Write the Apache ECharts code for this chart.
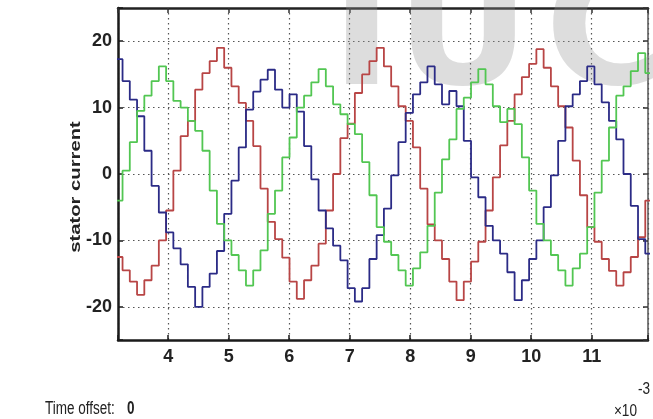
<!DOCTYPE html>
<html>
<head>
<meta charset="utf-8">
<title>stator current</title>
<script src="https://cdn.jsdelivr.net/npm/echarts@6/dist/echarts.min.js"></script>
<style>
  html, body { margin: 0; padding: 0; background: #fff; }
  #main { width: 653px; height: 419px; }
</style>
</head>
<body>
<div id="main"></div>
<script>
// scope trace: time in ms (axis shows x10^-3 s), each value holds until the next instant
const stepTimes = [
  3.125, 3.245, 3.365, 3.485, 3.605, 3.725, 3.845, 3.965, 4.085, 4.205,
  4.325, 4.445, 4.565, 4.685, 4.805, 4.925, 5.045, 5.165, 5.285, 5.405,
  5.525, 5.645, 5.765, 5.885, 6.005, 6.125, 6.245, 6.365, 6.485, 6.605,
  6.725, 6.845, 6.965, 7.085, 7.205, 7.325, 7.445, 7.565, 7.685, 7.805,
  7.925, 8.045, 8.165, 8.285, 8.405, 8.525, 8.645, 8.765, 8.885, 9.005,
  9.125, 9.245, 9.365, 9.485, 9.605, 9.725, 9.845, 9.965, 10.085, 10.205,
  10.325, 10.445, 10.565, 10.685, 10.805, 10.925, 11.045, 11.165, 11.285, 11.405,
  11.525, 11.645, 11.765, 11.885, 12.005
];

const phaseRed = [
  -12.5, -14.5, -16.2, -18.2, -16, -13.8, -10, -5.5, 0.5, 5.7,
  8, 12.7, 15.2, 17, 19, 16, 13.2, 10.7, 8, 4.2,
  -2.2, -7.2, -9.8, -12.6, -16.2, -18.8, -16, -13.8, -10.5, -5.5,
  0, 5.4, 7.6, 12.2, 15, 17, 19, 16.2, 13.2, 10.2,
  8, 4, -2.2, -7.6, -10, -12.8, -16.2, -19, -16.2, -13.2,
  -10.2, -5.5, -0.5, 4.3, 8, 12, 14.6, 16.6, 18.8, 16,
  13.2, 10.2, 7, 2, -3.2, -8, -10.2, -12.8, -14.6, -16.8,
  -14.8, -12.5, -9.5, -4
];

const phaseBlue = [
  17.3, 14, 11.2, 8.7, 3.5, -1.8, -5.8, -8.8, -11.2, -13.6,
  -17, -20, -17, -15, -11.6, -6, -1, 4, 9.7, 12.4,
  14.2, 15.7, 12.7, 10, 12, 9.4, 4.2, -0.8, -5.5, -8.2,
  -10.8, -13, -17.2, -19.2, -17.2, -12.8, -9.2, -5.2, -0.2, 4.8,
  9.2, 12, 13.8, 16.2, 13.5, 10.5, 12.5, 10.2, 5, -0.5,
  -3.5, -7.8, -10, -12, -14.8, -19, -16, -12.8, -10, -5,
  -0.2, 5, 10.2, 12, 14, 16.2, 13.5, 10.8, 8, 5.2,
  0, -4.8, -9.8, -12
];

const phaseGreen = [
  -4, 0.5, 4.8, 9.5, 11.8, 14, 16.2, 14, 11, 10,
  8, 6.5, 3.5, -2.5, -7.5, -10, -12.2, -14.5, -16.8, -14.5,
  -11.5, -6, -2.5, 2.5, 5.5, 10, 11.8, 13.8, 15.8, 13.2,
  10.5, 9, 7.5, 6, 1.8, -3.2, -8, -10.2, -12.2, -14.5,
  -16.8, -14.2, -11.8, -7.8, -2.8, 2.2, 5.2, 9.8, 11.5, 13.8,
  15.8, 13.5, 10.2, 7.8, 9.8, 7.5, 2.5, -2.5, -7.5, -10,
  -12.2, -14.5, -16.8, -14.2, -12, -8, -2.8, 2, 7, 11.8,
  13.2, 15.5, 18.2, 15.2
];

const xTicks = [4, 5, 6, 7, 8, 9, 10, 11];
const yTicks = [-20, -10, 0, 10, 20];

const FONT = '"Liberation Sans", Arial, sans-serif';

function toSteps(values) {
  const pts = values.map((v, i) => [stepTimes[i], v]);
  // hold the last sample until the closing instant
  pts.push([stepTimes[values.length], values[values.length - 1]]);
  return pts;
}

function traceSeries(name, values, color) {
  return {
    name: name,
    type: 'line',
    step: 'end',
    data: toSteps(values),
    showSymbol: false,
    symbol: 'none',
    lineStyle: { color: color, width: 1.8 },
    emphasis: { disabled: true },
    clip: true
  };
}

function label(text, x, y, size, opts) {
  opts = opts || {};
  return {
    type: 'text', x: x, y: y, z: 10, silent: true,
    rotation: opts.rotation || 0,
    scaleX: opts.scaleX || 1,
    style: {
      text: text,
      font: (opts.bold ? 'bold ' : '') + size + 'px ' + FONT,
      fill: '#222',
      align: opts.align || 'left',
      verticalAlign: 'middle'
    }
  };
}

function watermark(letter, x) {
  return {
    type: 'text', x: x, y: 41, z: 1, silent: true,
    style: { text: letter, font: 'bold 165px "DejaVu Sans"', fill: 'rgba(150,150,150,0.32)', align: 'left', verticalAlign: 'middle' }
  };
}

const chart = echarts.init(document.getElementById('main'));

const gridDots = { type: [1.5, 3.5], color: '#555', width: 1.2 };

const option = {
  animation: false,
  backgroundColor: '#ffffff',
  grid: { left: 118, right: 5, top: 8, bottom: 79, containLabel: false, outerBoundsMode: 'none' },
  xAxis: [{
    type: 'value',
    min: 3.17,
    max: 11.93,
    splitNumber: 9,
    axisLine: { show: true, onZero: false, lineStyle: { color: '#1a1a1a', width: 2.5 } },
    axisTick: { show: true, inside: true, length: 5, lineStyle: { color: '#1a1a1a', width: 1.5 } },
    axisLabel: {
      margin: 8,
      color: '#222',
      fontFamily: FONT,
      fontSize: 18,
      fontWeight: 'bold',
      formatter: v => (xTicks.indexOf(v) >= 0 ? String(v) : '')
    },
    splitLine: { show: true, lineStyle: gridDots }
  }, {
    type: 'value',
    position: 'top',
    min: 3.17,
    max: 11.93,
    splitNumber: 9,
    axisLine: { show: true, onZero: false, lineStyle: { color: '#222', width: 2.5 } },
    axisTick: { show: true, inside: true, length: 5, lineStyle: { color: '#333', width: 1.5 } },
    axisLabel: { show: false },
    splitLine: { show: false }
  }],
  yAxis: [{
    type: 'value',
    min: -25,
    max: 25,
    splitNumber: 5,
    axisLine: { show: true, onZero: false, lineStyle: { color: '#1a1a1a', width: 2.5 } },
    axisTick: { show: true, inside: true, length: 5, lineStyle: { color: '#1a1a1a', width: 1.5 } },
    axisLabel: {
      margin: 6,
      color: '#222',
      fontFamily: FONT,
      fontSize: 18,
      fontWeight: 'bold',
      formatter: v => (yTicks.indexOf(v) >= 0 ? String(v) : '')
    },
    splitLine: { show: true, lineStyle: gridDots }
  }, {
    type: 'value',
    position: 'right',
    min: -25,
    max: 25,
    splitNumber: 5,
    axisLine: { show: true, onZero: false, lineStyle: { color: '#555', width: 1.5 } },
    axisTick: { show: true, inside: true, length: 5, lineStyle: { color: '#333', width: 1.5 } },
    axisLabel: { show: false },
    splitLine: { show: false }
  }],
  graphic: [
    // faint watermark letters cut by the top of the picture
    watermark('I', 331),
    watermark('U', 396),
    watermark('C', 545),
    label('stator current', 76, 187, 15, { bold: true, align: 'center', rotation: Math.PI / 2, scaleX: 1.35 }),
    label('Time offset:', 45, 409, 18, { scaleX: 0.75 }),
    label('0', 127, 409, 18, { bold: true, scaleX: 0.75 }),
    label('\u00d710', 637, 411, 17, { align: 'right', scaleX: 0.8 }),
    label('-3', 638, 389, 17, { scaleX: 0.8 })
  ],
  series: [
    traceSeries('phase a', phaseRed, '#b84545'),
    traceSeries('phase b', phaseBlue, '#2b2b86'),
    traceSeries('phase c', phaseGreen, '#52c652')
  ]
};

chart.setOption(option);
</script>
</body>
</html>
